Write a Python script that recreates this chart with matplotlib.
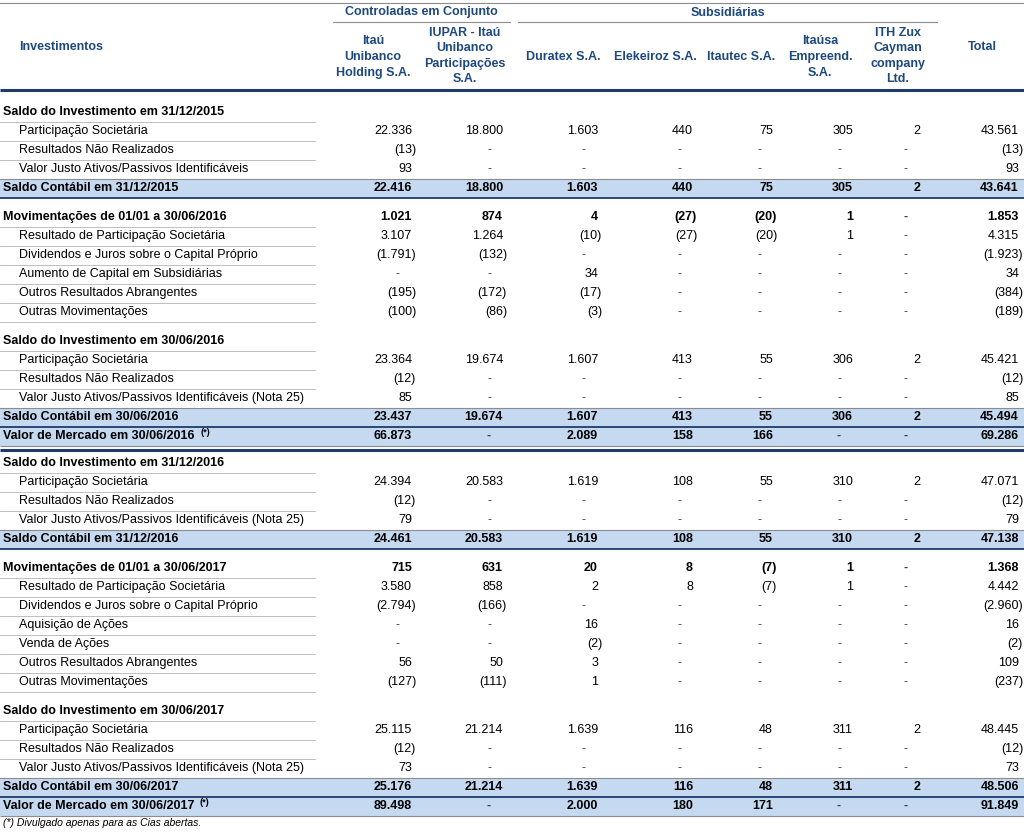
import matplotlib
matplotlib.use('Agg')
import matplotlib.pyplot as plt
from matplotlib.patches import Rectangle

plt.rcParams['font.family'] = ['Liberation Sans', 'DejaVu Sans']

# cores
HDR = '#1F497D'
BAND = '#C5D9F1'
DARK = '#1F3B6B'
GRAY = '#A6A6A6'

# cabeçalho
group_names = ['Controladas em Conjunto', 'Subsidiárias']
col_names = ['Itaú\nUnibanco\nHolding S.A.',
             'IUPAR - Itaú\nUnibanco\nParticipações\nS.A.',
             'Duratex S.A.', 'Elekeiroz S.A.', 'Itautec S.A.',
             'Itaúsa\nEmpreend.\nS.A.',
             'ITH Zux\nCayman\ncompany\nLtd.',
             'Total']

# linhas da tabela
labels = [
    'Saldo do Investimento em 31/12/2015',
    'Participação Societária',
    'Resultados Não Realizados',
    'Valor Justo Ativos/Passivos Identificáveis',
    'Saldo Contábil em 31/12/2015',
    '',
    'Movimentações de 01/01 a 30/06/2016',
    'Resultado de Participação Societária',
    'Dividendos e Juros sobre o Capital Próprio',
    'Aumento de Capital em Subsidiárias',
    'Outros Resultados Abrangentes',
    'Outras Movimentações',
    '',
    'Saldo do Investimento em 30/06/2016',
    'Participação Societária',
    'Resultados Não Realizados',
    'Valor Justo Ativos/Passivos Identificáveis (Nota 25)',
    'Saldo Contábil em 30/06/2016',
    'Valor de Mercado em 30/06/2016',
    '',
    'Saldo do Investimento em 31/12/2016',
    'Participação Societária',
    'Resultados Não Realizados',
    'Valor Justo Ativos/Passivos Identificáveis (Nota 25)',
    'Saldo Contábil em 31/12/2016',
    '',
    'Movimentações de 01/01 a 30/06/2017',
    'Resultado de Participação Societária',
    'Dividendos e Juros sobre o Capital Próprio',
    'Aquisição de Ações',
    'Venda de Ações',
    'Outros Resultados Abrangentes',
    'Outras Movimentações',
    '',
    'Saldo do Investimento em 30/06/2017',
    'Participação Societária',
    'Resultados Não Realizados',
    'Valor Justo Ativos/Passivos Identificáveis (Nota 25)',
    'Saldo Contábil em 30/06/2017',
    'Valor de Mercado em 30/06/2017',
]
kinds = ['sec', 'item', 'item', 'item', 'band', 'gap',
         'mov', 'item', 'item', 'item', 'item', 'item', 'gap',
         'sec', 'item', 'item', 'item', 'band', 'mkt', 'sep',
         'sec', 'item', 'item', 'item', 'band', 'gap',
         'mov', 'item', 'item', 'item', 'item', 'item', 'item', 'gap',
         'sec', 'item', 'item', 'item', 'band', 'mkt']

N = None
values = [
    None,
    [22336, 18800, 1603, 440, 75, 305, 2, 43561],
    [-13, N, N, N, N, N, N, -13],
    [93, N, N, N, N, N, N, 93],
    [22416, 18800, 1603, 440, 75, 305, 2, 43641],
    None,
    [1021, 874, 4, -27, -20, 1, N, 1853],
    [3107, 1264, -10, -27, -20, 1, N, 4315],
    [-1791, -132, N, N, N, N, N, -1923],
    [N, N, 34, N, N, N, N, 34],
    [-195, -172, -17, N, N, N, N, -384],
    [-100, -86, -3, N, N, N, N, -189],
    None,
    None,
    [23364, 19674, 1607, 413, 55, 306, 2, 45421],
    [-12, N, N, N, N, N, N, -12],
    [85, N, N, N, N, N, N, 85],
    [23437, 19674, 1607, 413, 55, 306, 2, 45494],
    [66873, N, 2089, 158, 166, N, N, 69286],
    None,
    None,
    [24394, 20583, 1619, 108, 55, 310, 2, 47071],
    [-12, N, N, N, N, N, N, -12],
    [79, N, N, N, N, N, N, 79],
    [24461, 20583, 1619, 108, 55, 310, 2, 47138],
    None,
    [715, 631, 20, 8, -7, 1, N, 1368],
    [3580, 858, 2, 8, -7, 1, N, 4442],
    [-2794, -166, N, N, N, N, N, -2960],
    [N, N, 16, N, N, N, N, 16],
    [N, N, -2, N, N, N, N, -2],
    [56, 50, 3, N, N, N, N, 109],
    [-127, -111, 1, N, N, N, N, -237],
    None,
    None,
    [25115, 21214, 1639, 116, 48, 311, 2, 48445],
    [-12, N, N, N, N, N, N, -12],
    [73, N, N, N, N, N, N, 73],
    [25176, 21214, 1639, 116, 48, 311, 2, 48506],
    [89498, N, 2000, 180, 171, N, N, 91849],
]
footnote = '(*) Divulgado apenas para as Cias abertas.'

# layout (pixels)
col_centers = [373, 465, 563, 655, 741, 820, 898, 982]
col_head_y = [57, 56, 57, 57, 57, 57, 56, 47]
col_right = [412, 503, 598, 693, 773, 853, 920, 1019]
group_x = [(333, 510), (518, 937)]


def fmt(v):
    s = f'{abs(v):,}'.replace(',', '.')
    return f'({s})' if v < 0 else s


fig = plt.figure(figsize=(10.24, 8.35), dpi=100)
ax = fig.add_axes([0, 0, 1, 1])
ax.set_xlim(0, 1024)
ax.set_ylim(835, 0)
ax.axis('off')

# cabeçalho
ax.plot([0, 1024], [2.5, 2.5], color='#8C8C8C', lw=0.8)
for name, (x0, x1) in zip(group_names, group_x):
    ax.text((x0 + x1) / 2, 12.5, name, ha='center', va='center', fontsize=9,
            fontweight='bold', color=HDR)
    ax.plot([x0, x1], [21.5, 21.5], color='#8C8C8C', lw=0.8)
ax.text(19, 47, 'Investimentos', ha='left', va='center', fontsize=9,
        fontweight='bold', color=HDR)
for name, xc, yc in zip(col_names, col_centers, col_head_y):
    ax.text(xc, yc, name, ha='center', va='center', fontsize=9,
            fontweight='bold', color=HDR, linespacing=1.4, multialignment='center')
ax.plot([0, 1024], [90, 90], color=DARK, lw=2.2, solid_capstyle='butt')

# posições verticais das linhas
pitch = 19
cur = 112
ys = []
for k in kinds:
    if k == 'gap':
        ys.append(None)
        cur += 10
    elif k == 'sep':
        ys.append(cur - pitch + 13.5)
        cur += 8
    else:
        ys.append(cur)
        cur += pitch

for i, (lab, k, y) in enumerate(zip(labels, kinds, ys)):
    if k == 'gap':
        continue
    if k == 'sep':
        ax.plot([0, 1024], [y, y], color=DARK, lw=2.2, solid_capstyle='butt')
        continue
    nxt = kinds[i + 1] if i + 1 < len(kinds) else None
    bold = k in ('sec', 'mov', 'band', 'mkt')
    if k in ('band', 'mkt'):
        ax.add_patch(Rectangle((0, y - 9.5), 1024, 19, facecolor=BAND, edgecolor='none', zorder=0))
        if kinds[i - 1] not in ('band', 'mkt'):
            ax.plot([0, 1024], [y - 9.5, y - 9.5], color='#8C8C8C', lw=0.8)
        ax.plot([0, 1024], [y + 9.5, y + 9.5], color=DARK if k == 'band' else '#8C8C8C',
                lw=1.3 if k == 'band' else 0.8, solid_capstyle='butt')
    elif nxt not in ('band', 'mkt'):
        ax.plot([0, 315], [y + 9.5, y + 9.5], color='#BFBFBF', lw=0.7)

    x = 19 if k == 'item' else 3
    t = ax.text(x, y, lab, ha='left', va='center', fontsize=9,
                fontweight='bold' if bold else 'normal', color='black')
    if k == 'mkt':
        ax.annotate('(*)', xy=(1, 1), xycoords=t, xytext=(4, 1.5), textcoords='offset points',
                    ha='left', va='top', fontsize=6.5, fontweight='bold')

    vals = values[i]
    if vals is None:
        continue
    for v, xr in zip(vals, col_right):
        if v is None:
            ax.text(xr - 14, y, '-', ha='center', va='center', fontsize=9,
                    fontweight='bold' if bold else 'normal', color='#404040')
        elif v < 0:
            ax.text(xr + 4, y, fmt(v), ha='right', va='center', fontsize=9,
                    fontweight='bold' if bold else 'normal')
        else:
            ax.text(xr, y, fmt(v), ha='right', va='center', fontsize=9,
                    fontweight='bold' if bold else 'normal')

ax.text(3, ys[-1] + 17, footnote, ha='left', va='center', fontsize=7.5,
        fontstyle='italic', color='black')

fig.savefig('out.png', dpi=100)
